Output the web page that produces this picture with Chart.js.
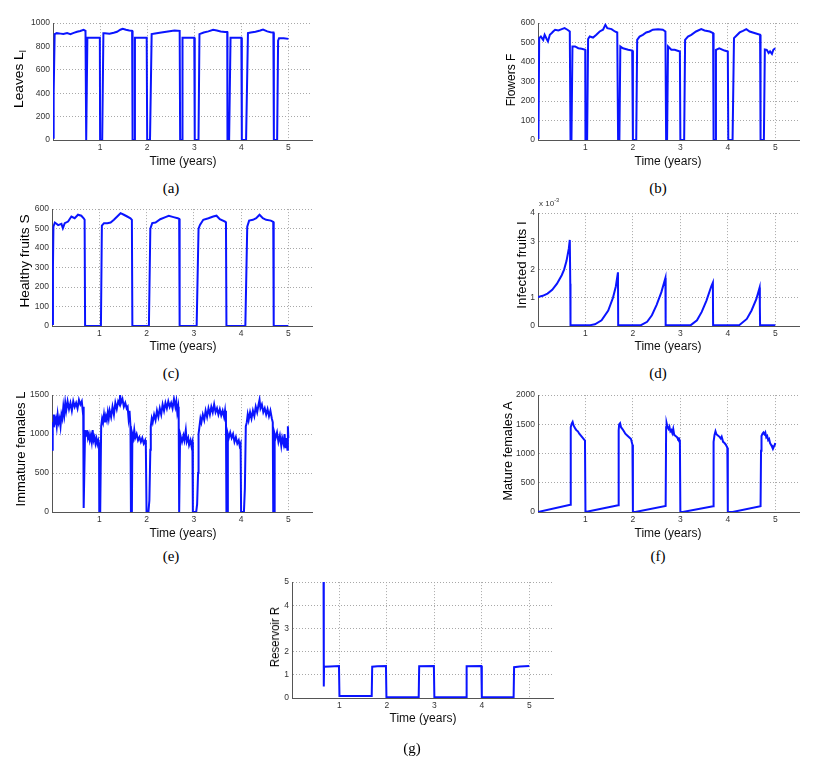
<!DOCTYPE html>
<html>
<head>
<meta charset="utf-8">
<script src="https://cdn.jsdelivr.net/npm/chart.js@4.4.0/dist/chart.umd.min.js"></script>
<style>
  body { margin: 0; background: #fff; }
  #fig { position: relative; width: 830px; height: 769px; overflow: hidden; background: #fff; }
  .panel { position: absolute; }
  .lbl { position: absolute; white-space: nowrap; line-height: 1; color: #111;
         font-family: 'Liberation Sans', Arial, sans-serif; transform: translate(-50%, -50%); }
  .xt { font-size: 12px; }
  .yt { font-size: 13px; color: #000; }
  .cap { font-family: 'Liberation Serif', 'Times New Roman', serif; font-size: 15px; color: #000; }
  .exp { font-size: 8px; color: #333; transform: none; }
  sub, sup { font-size: 70%; line-height: 0; }
</style>
</head>
<body>
<div id="fig"></div>
<script>
// time axis
const timeTicks = [1, 2, 3, 4, 5];

// (a) leaves
const leavesTicks = [0, 200, 400, 600, 800, 1000];
const leavesT = [0, 0.014, 0.035, 0.08, 0.16, 0.22, 0.3, 0.37, 0.44, 0.51, 0.58, 0.65, 0.69,
  0.705, 0.715, 0.73, 0.86, 0.995, 1.0, 1.045, 1.07,
  1.1, 1.2, 1.29, 1.36, 1.43, 1.48, 1.55, 1.62, 1.68,
  1.69, 1.725, 1.74, 1.87, 1.99, 2.0, 2.06, 2.095,
  2.2, 2.3, 2.44, 2.58, 2.69,
  2.7, 2.74, 2.75, 2.88, 3.0, 3.01, 3.09, 3.11,
  3.2, 3.3, 3.4, 3.48, 3.56, 3.65, 3.7,
  3.705, 3.74, 3.77, 3.9, 4.0, 4.01, 4.1, 4.14,
  4.2, 4.3, 4.4, 4.46, 4.55, 4.62, 4.68,
  4.69, 4.76, 4.78, 4.8, 4.9, 5.0];
const leavesV = [20, 400, 905, 914, 910, 906, 914, 906, 916, 926, 932, 943, 934,
  0, 0, 875, 875, 875, 0, 0, 914,
  914, 909, 918, 926, 943, 951, 943, 937, 934,
  0, 0, 875, 875, 875, 0, 0, 906,
  914, 920, 929, 937, 934,
  0, 0, 875, 875, 875, 0, 0, 906,
  920, 929, 943, 937, 929, 924, 924,
  0, 0, 875, 875, 875, 0, 0, 914,
  920, 926, 937, 945, 929, 922, 920,
  0, 0, 850, 870, 870, 865];

// (b) flowers
const flowersTicks = [0, 100, 200, 300, 400, 500, 600];
const flowersT = [0, 0.01, 0.025, 0.06, 0.11, 0.14, 0.18, 0.21, 0.25, 0.29, 0.32, 0.36, 0.43, 0.5, 0.56, 0.62, 0.67,
  0.685, 0.705, 0.726, 0.78, 0.85, 0.92, 0.995, 1.0, 1.035, 1.056,
  1.09, 1.16, 1.23, 1.3, 1.37, 1.42, 1.46, 1.55, 1.62, 1.67,
  1.688, 1.715, 1.735, 1.79, 1.9, 1.985, 2.0, 2.07, 2.09,
  2.14, 2.21, 2.28, 2.35, 2.42, 2.53, 2.63, 2.685,
  2.7, 2.72, 2.74, 2.81, 2.88, 2.99, 3.0, 3.08, 3.1,
  3.16, 3.23, 3.33, 3.44, 3.51, 3.62, 3.69,
  3.7, 3.74, 3.75, 3.82, 3.93, 4.0, 4.01, 4.1, 4.13,
  4.18, 4.25, 4.32, 4.39, 4.46, 4.56, 4.68,
  4.69, 4.76, 4.78, 4.82, 4.86, 4.89, 4.93, 4.96, 5.0];
const flowersV = [10, 34, 523, 531, 514, 540, 520, 506, 540, 549, 557, 566, 562, 569, 574, 566, 557,
  0, 0, 480, 480, 471, 468, 463, 0, 0, 518,
  531, 526, 540, 557, 566, 591, 574, 569, 557, 552,
  0, 0, 480, 471, 463, 459, 0, 0, 514,
  531, 540, 552, 557, 566, 569, 566, 557,
  0, 0, 480, 463, 463, 454, 0, 0, 514,
  531, 540, 557, 569, 562, 557, 549,
  0, 0, 463, 471, 459, 454, 0, 0, 523,
  535, 552, 560, 569, 557, 549, 540,
  0, 0, 465, 463, 446, 455, 442, 463, 471];

// (c) healthy fruits
const healthyTicks = [0, 100, 200, 300, 400, 500, 600];
const healthyT = [0, 0.02, 0.03, 0.06, 0.13, 0.2, 0.23, 0.27, 0.34, 0.41, 0.48, 0.55, 0.62, 0.67, 0.69,
  0.7, 1.035, 1.055,
  1.1, 1.17, 1.24, 1.31, 1.38, 1.45, 1.52, 1.59, 1.66, 1.69,
  1.7, 2.05, 2.08,
  2.12, 2.19, 2.29, 2.4, 2.47, 2.57, 2.66, 2.69,
  2.7, 3.06, 3.1,
  3.13, 3.2, 3.31, 3.41, 3.48, 3.55, 3.66, 3.68,
  3.69, 4.09, 4.13,
  4.17, 4.25, 4.32, 4.39, 4.46, 4.53, 4.63, 4.68,
  4.69, 5.0];
const healthyV = [10, 300, 510, 531, 518, 524, 502, 528, 536, 562, 553, 571, 566, 553, 545,
  0, 0, 515,
  528, 528, 531, 545, 562, 579, 571, 562, 553, 545,
  0, 0, 500,
  528, 531, 548, 559, 566, 559, 553, 550,
  0, 0, 500,
  519, 545, 553, 562, 566, 548, 536, 530,
  0, 0, 510,
  541, 545, 553, 571, 553, 545, 541, 535,
  0, 0];

// (d) infected fruits, in units of 1e-3
const infectedTicks = [0, 1, 2, 3, 4];
const infectedT = [0, 0.1, 0.2, 0.3, 0.4, 0.5, 0.55, 0.6, 0.65, 0.67, 0.68, 0.685,
  1.1, 1.2, 1.34, 1.48, 1.58, 1.64, 1.685, 1.69,
  2.17, 2.3, 2.4, 2.5, 2.6, 2.685, 2.69,
  3.22, 3.35, 3.45, 3.55, 3.65, 3.685, 3.69,
  4.24, 4.4, 4.5, 4.6, 4.67, 4.675, 4.68, 5.0];
const infectedV = [1.03, 1.07, 1.15, 1.28, 1.5, 1.8, 2.0, 2.3, 2.75, 3.05, 1.5, 0.03,
  0.03, 0.06, 0.2, 0.55, 1.0, 1.4, 1.9, 0.03,
  0.03, 0.15, 0.38, 0.75, 1.2, 1.7, 0.03,
  0.03, 0.2, 0.5, 0.9, 1.4, 1.54, 0.03,
  0.03, 0.25, 0.55, 0.95, 1.36, 0.7, 0.03, 0.03];

// (e) immature females
const immatureTicks = [0, 500, 1000, 1500];
const immatureT = [0, 0.01, 0.02, 0.03, 0.04, 0.06, 0.08, 0.1, 0.12, 0.14, 0.16, 0.18, 0.2, 0.22, 0.24, 0.26, 0.28, 0.3,
  0.33, 0.36, 0.39, 0.42, 0.45, 0.48, 0.51, 0.54, 0.57, 0.6, 0.63, 0.65, 0.66, 0.67,
  0.7, 0.72, 0.74, 0.76, 0.78, 0.8, 0.82, 0.84, 0.86, 0.88, 0.9, 0.92, 0.94, 0.96, 0.98, 0.995, 1.0, 1.02,
  1.04, 1.06, 1.08, 1.1, 1.12, 1.14, 1.16, 1.18, 1.2, 1.22, 1.25, 1.28, 1.31, 1.34, 1.37, 1.4, 1.43, 1.44,
  1.46, 1.49, 1.52, 1.55, 1.58, 1.6, 1.62, 1.64, 1.66, 1.67, 1.69,
  1.7, 1.72, 1.74, 1.76, 1.79, 1.82, 1.85, 1.88, 1.91, 1.94, 1.97, 1.985, 2.0, 2.04, 2.06, 2.08, 2.09,
  2.11, 2.13, 2.16, 2.19, 2.22, 2.25, 2.28, 2.31, 2.34, 2.37, 2.4, 2.43, 2.46, 2.49, 2.52, 2.55, 2.58, 2.61,
  2.63, 2.65, 2.67, 2.68, 2.69, 2.7,
  2.71, 2.73, 2.75, 2.78, 2.8, 2.83, 2.85, 2.88, 2.9, 2.93, 2.95, 2.97, 2.98, 3.05, 3.07, 3.09, 3.1, 3.12,
  3.14, 3.16, 3.19, 3.22, 3.25, 3.28, 3.31, 3.34, 3.37, 3.4, 3.43, 3.46, 3.49, 3.52, 3.55, 3.58, 3.61, 3.64,
  3.66, 3.68, 3.69, 3.71,
  3.72, 3.74, 3.77, 3.8, 3.83, 3.86, 3.89, 3.92, 3.95, 3.97, 3.99, 4.0, 4.06, 4.08, 4.1, 4.12,
  4.14, 4.16, 4.19, 4.22, 4.25, 4.28, 4.31, 4.34, 4.37, 4.39, 4.41, 4.44, 4.47, 4.5, 4.53, 4.56, 4.59, 4.62,
  4.65, 4.67, 4.68, 4.7,
  4.71, 4.73, 4.76, 4.79, 4.82, 4.85, 4.87, 4.9, 4.92, 4.94, 4.96, 4.98, 4.99, 5.0];
const immatureV = [800, 1000, 1150, 1100, 1250, 1150, 1200, 1100, 1250, 1150, 1200, 1100, 1250, 1200, 1350, 1250, 1400, 1300,
  1420, 1320, 1400, 1300, 1420, 1350, 1400, 1330, 1440, 1380, 1420, 1300, 1350, 50,
  1050, 980, 1050, 950, 1000, 920, 980, 900, 1050, 920, 960, 880, 940, 870, 920, 880, 0, 0,
  1100, 1200, 1150, 1250, 1150, 1230, 1180, 1280, 1200, 1300, 1220, 1350, 1250, 1400, 1320, 1420, 1380, 1500,
  1400, 1450, 1350, 1400, 1330, 1350, 1200, 1300, 1100, 0, 0,
  1000, 950, 1050, 950, 1000, 920, 960, 900, 950, 880, 920, 850, 0, 0, 150, 800, 1100,
  1200, 1150, 1250, 1180, 1300, 1220, 1330, 1250, 1380, 1300, 1400, 1330, 1420, 1350, 1400, 1330, 1450, 1350,
  1420, 1280, 1350, 1200, 0, 0,
  1000, 950, 900, 980, 920, 1050, 900, 950, 860, 920, 850, 900, 0, 0, 100, 500, 1000, 1100,
  1200, 1150, 1250, 1180, 1300, 1220, 1330, 1250, 1350, 1280, 1380, 1280, 1330, 1250, 1320, 1240, 1300, 1220,
  1300, 1150, 0, 0,
  1000, 950, 1020, 950, 1000, 900, 960, 880, 920, 850, 880, 0, 0, 300, 1100, 1150,
  1250, 1180, 1280, 1200, 1300, 1230, 1350, 1280, 1380, 1440, 1330, 1380, 1280, 1330, 1250, 1320, 1230, 1300,
  1200, 1150, 0, 0,
  1000, 950, 1020, 900, 980, 850, 950, 870, 1000, 820, 950, 800, 1100, 950];

// (f) mature females
const matureTicks = [0, 500, 1000, 1500, 2000];
const matureT = [0, 0.68, 0.69, 0.71, 0.73, 0.75, 0.77, 0.79, 0.81, 0.84, 0.87, 0.9, 0.93, 0.96, 0.99, 1.0,
  1.69, 1.7, 1.71, 1.73, 1.75, 1.78, 1.81, 1.84, 1.88, 1.92, 1.96, 1.99, 2.0, 2.05,
  2.69, 2.7, 2.71, 2.73, 2.75, 2.77, 2.79, 2.81, 2.83, 2.85, 2.87, 2.9, 2.93, 2.95, 2.97, 2.99, 3.0, 3.05,
  3.69, 3.7, 3.72, 3.74, 3.76, 3.79, 3.82, 3.85, 3.87, 3.9, 3.93, 3.96, 3.99, 4.0, 4.1,
  4.69, 4.7, 4.71, 4.73, 4.75, 4.77, 4.79, 4.81, 4.83, 4.85, 4.87, 4.89, 4.91, 4.93, 4.95, 4.97, 4.99, 5.0];
const matureV = [0, 125, 1450, 1510, 1540, 1480, 1450, 1420, 1400, 1380, 1340, 1310, 1280, 1250, 1220, 0,
  115, 1400, 1500, 1520, 1450, 1420, 1380, 1340, 1310, 1280, 1250, 1150, 0, 0,
  105, 1450, 1520, 1450, 1420, 1460, 1380, 1400, 1350, 1420, 1320, 1300, 1280, 1250, 1260, 1220, 0, 0,
  100, 1200, 1320, 1380, 1330, 1310, 1290, 1260, 1290, 1200, 1180, 1150, 1100, 0, 0,
  100, 1050, 1300, 1340, 1360, 1330, 1360, 1280, 1300, 1230, 1250, 1180, 1150, 1120, 1080, 1120, 1150, 1180];

// (g) reservoir
const reservoirTicks = [0, 1, 2, 3, 4, 5];
const reservoirT = [0.665, 0.67, 0.675, 0.8, 0.99, 1.0, 1.68, 1.69, 1.8, 1.98, 1.99, 2.67, 2.68, 2.99, 3.0,
  3.67, 3.68, 3.99, 4.0, 4.67, 4.68, 4.8, 5.0];
const reservoirV = [5.0, 0.5, 1.35, 1.36, 1.38, 0.09, 0.09, 1.35, 1.37, 1.38, 0.03, 0.03, 1.37, 1.38, 0.03,
  0.03, 1.37, 1.38, 0.03, 0.03, 1.33, 1.36, 1.38];

const fig = document.getElementById('fig');

function label(html, cls, x, y) {
  const el = document.createElement('div');
  el.className = 'lbl ' + cls;
  el.innerHTML = html;
  el.style.left = x + 'px';
  el.style.top = y + 'px';
  fig.appendChild(el);
  return el;
}

// rotated y title fitted to the length seen in the picture
function yTitle(html, x, y, len, size) {
  const el = label(html, 'yt', x, y);
  if (size) el.style.fontSize = size + 'px';
  const k = len / el.offsetWidth;
  el.style.transform = 'translate(-50%, -50%) rotate(-90deg) scaleX(' + k + ')';
}

function panel(rect, ts, vs, yTicks) {
  const pad = 8, yw = 40, xh = 20;
  const box = document.createElement('div');
  box.className = 'panel';
  box.style.left = (rect[0] - yw) + 'px';
  box.style.top = (rect[1] - pad) + 'px';
  box.style.width = (rect[2] - rect[0] + yw + pad) + 'px';
  box.style.height = (rect[3] - rect[1] + pad + xh) + 'px';
  const cv = document.createElement('canvas');
  box.appendChild(cv);
  fig.appendChild(box);

  const tickFont = { family: "'Liberation Sans', Arial, sans-serif", size: 8.5 };
  const grid = { color: '#a8a8a8', lineWidth: 1, drawTicks: false };
  const border = { color: '#555', width: 1, dash: [1, 2] };
  const plain = v => String(v);

  new Chart(cv, {
    type: 'line',
    data: {
      datasets: [{
        data: ts.map((t, i) => ({ x: t, y: vs[i] })),
        borderColor: '#0a14ff',
        borderWidth: 2,
        pointRadius: 0,
        tension: 0
      }]
    },
    options: {
      responsive: true,
      maintainAspectRatio: false,
      animation: false,
      layout: { padding: { top: pad, right: pad, left: 0, bottom: 0 } },
      plugins: { legend: { display: false }, tooltip: { enabled: false } },
      scales: {
        x: {
          type: 'linear', min: 0, max: 5.5,
          afterFit: s => { s.height = xh; },
          afterBuildTicks: s => { s.ticks = timeTicks.map(v => ({ value: v })); },
          grid: grid, border: border,
          ticks: { font: tickFont, color: '#333', padding: 3, maxRotation: 0, autoSkip: false, callback: plain }
        },
        y: {
          min: yTicks[0], max: yTicks[yTicks.length - 1],
          afterFit: s => { s.width = yw; },
          afterBuildTicks: s => { s.ticks = yTicks.map(v => ({ value: v })); },
          grid: grid, border: border,
          ticks: { font: tickFont, color: '#333', padding: 3, autoSkip: false, callback: plain }
        }
      }
    }
  });
}

panel([53, 23, 312, 140], leavesT, leavesV, leavesTicks);
panel([538, 23, 799, 140], flowersT, flowersV, flowersTicks);
panel([52, 209, 312, 326], healthyT, healthyV, healthyTicks);
panel([538, 213, 799, 326], infectedT, infectedV, infectedTicks);
panel([52, 395, 312, 512], immatureT, immatureV, immatureTicks);
panel([538, 395, 799, 512], matureT, matureV, matureTicks);
panel([292, 582, 553, 698], reservoirT, reservoirV, reservoirTicks);

yTitle('Leaves L<sub>l</sub>', 18, 79, 58);
yTitle('Flowers F', 511, 80, 53, 12);
yTitle('Healthy fruits S', 24, 261, 93);
yTitle('Infected fruits I', 521, 265, 87);
yTitle('Immature females L', 20, 449, 115);
yTitle('Mature females A', 507, 451, 99);
yTitle('Reservoir R', 275, 637, 60, 12);

label('Time (years)', 'xt', 183, 161);
label('Time (years)', 'xt', 668, 161);
label('Time (years)', 'xt', 183, 346);
label('Time (years)', 'xt', 668, 346);
label('Time (years)', 'xt', 183, 533);
label('Time (years)', 'xt', 668, 533);
label('Time (years)', 'xt', 423, 718);

label('(a)', 'cap', 171, 188);
label('(b)', 'cap', 658, 188);
label('(c)', 'cap', 171, 373);
label('(d)', 'cap', 658, 373);
label('(e)', 'cap', 171, 556);
label('(f)', 'cap', 658, 556);
label('(g)', 'cap', 412, 748);

label('x 10<sup>-3</sup>', 'exp', 539, 200);
</script>
</body>
</html>
